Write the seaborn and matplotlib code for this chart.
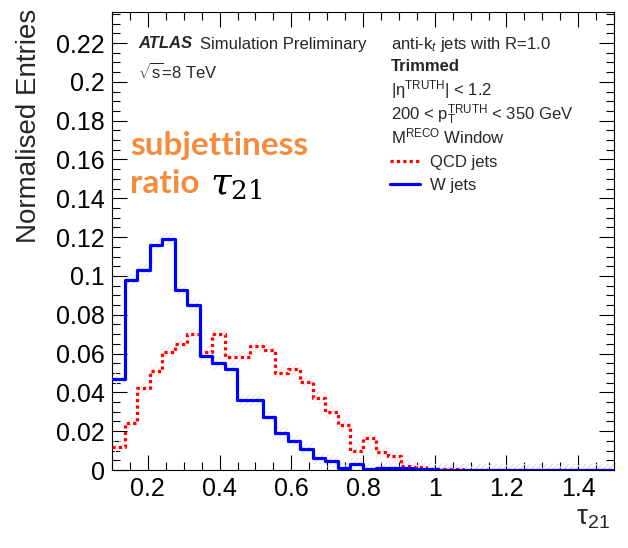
import numpy as np
import pandas as pd
import matplotlib
matplotlib.use("Agg")
import matplotlib.pyplot as plt
import seaborn as sns
from matplotlib.lines import Line2D
from matplotlib.ticker import MultipleLocator, FuncFormatter

# ---------------- data ----------------
bin_low = 0.1
bin_high = 1.5
n_bins = 40
w_values = [0.047, 0.098, 0.103, 0.116, 0.119, 0.093, 0.085, 0.059, 0.055, 0.052,
            0.036, 0.036, 0.0275, 0.019, 0.0148, 0.011, 0.006, 0.0048, 0.001, 0.003,
            0.0003, 0.0008, 0.0008, 0.0008, 0.0005, 0.0003, 0.0002, 0.0002, 0.0001, 0.0001,
            0, 0, 0, 0, 0, 0, 0, 0, 0, 0]
qcd_values = [0.012, 0.024, 0.042, 0.051, 0.061, 0.065, 0.070, 0.061, 0.070, 0.058,
              0.058, 0.064, 0.062, 0.050, 0.052, 0.0455, 0.037, 0.030, 0.023, 0.010,
              0.0165, 0.0094, 0.007, 0.0022, 0.0017, 0.0006, 0.0004, 0.0003, 0.0002, 0.0002,
              0.0001, 0.0001, 0.0001, 0, 0, 0, 0, 0, 0, 0]
series_labels = ["QCD jets", "W jets"]
x_ticks_step = 0.2
y_ticks_step = 0.02

edges = np.linspace(bin_low, bin_high, n_bins + 1)
centers = 0.5 * (edges[:-1] + edges[1:])
df = pd.DataFrame({"tau21": centers, "w": w_values, "qcd": qcd_values})

# ---------------- style ----------------
sns.set_style("ticks")
plt.rcParams["font.family"] = ["Liberation Sans", "DejaVu Sans"]
plt.rcParams["mathtext.fontset"] = "custom"
plt.rcParams["mathtext.rm"] = "Liberation Sans"
plt.rcParams["mathtext.it"] = "Liberation Sans:italic"
plt.rcParams["mathtext.bf"] = "Liberation Sans:bold"
plt.rcParams["hatch.linewidth"] = 0.6

W, H = 628, 548
fig = plt.figure(figsize=(W / 100, H / 100), dpi=100)
ax = fig.add_axes([112 / W, 1 - 470 / H, 502 / W, 458 / H])

RED = "#ff0000"
BLUE = "#0000ff"

# faint hatched uncertainty bands
for vals, col in [(qcd_values, "#ffd6d6"), (w_values, "#d6dcff")]:
    v = np.append(vals, vals[-1])
    ax.fill_between(edges, v - 0.003, v + 0.003, step="post", facecolor="none",
                    edgecolor=col, hatch="//////", linewidth=0, zorder=1)

sns.histplot(data=df, x="tau21", weights="qcd", bins=n_bins, binrange=(bin_low, bin_high),
             element="step", fill=False, color=RED, linewidth=2.3, linestyle=(0, (1, 1)),
             ax=ax, zorder=3)
sns.histplot(data=df, x="tau21", weights="w", bins=n_bins, binrange=(bin_low, bin_high),
             element="step", fill=False, color=BLUE, linewidth=2.3, ax=ax, zorder=4)

ax.set_xlim(0.1, 1.5)
ax.set_ylim(0, 0.236)
ax.xaxis.set_major_locator(MultipleLocator(x_ticks_step))
ax.xaxis.set_minor_locator(MultipleLocator(0.05))
ax.yaxis.set_major_locator(MultipleLocator(y_ticks_step))
ax.yaxis.set_minor_locator(MultipleLocator(0.005))
fmt = FuncFormatter(lambda v, p: "%g" % round(v, 6))
ax.xaxis.set_major_formatter(fmt)
ax.yaxis.set_major_formatter(fmt)
ax.tick_params(which="both", direction="in", top=True, right=True, width=0.8, colors="black")
ax.tick_params(which="major", length=11, labelsize=18, pad=5)
ax.tick_params(which="minor", length=5.5)
for s in ax.spines.values():
    s.set_linewidth(0.8)
    s.set_color("black")

ax.set_ylabel("Normalised Entries", fontsize=20, loc="top")
ax.yaxis.set_label_coords(-0.139, 1.008)
ax.set_xlabel(r"$\mathrm{τ}_{21}$", fontsize=20, loc="right")
ax.xaxis.set_label_coords(0.992, -0.076)

def ft(x, y, s, **kw):
    fig.text(x / W, 1 - y / H, s, va="baseline", ha="left", **kw)

ft(138, 48.5, "ATLAS", fontsize=12, fontweight="bold", fontstyle="italic")
ft(200, 48.5, "Simulation Preliminary", fontsize=12)
ft(138, 78.5, r"$\sqrt{\mathrm{s}}$=8 TeV", fontsize=12)

ft(391, 49.5, r"anti-k$_{t}$ jets with R=1.0", fontsize=12)
ft(391, 71, "Trimmed", fontsize=12, fontweight="bold")
ft(391, 95, r"|$\mathrm{η}^{\mathrm{TRUTH}}$| < 1.2", fontsize=12)
ft(391, 119.5, r"200 < p$_{\mathrm{T}}^{\mathrm{TRUTH}}$ < 350 GeV", fontsize=12)
ft(391, 143.5, r"M$^{\mathrm{RECO}}$ Window", fontsize=12)

handles = [Line2D([], [], color=RED, lw=2.3, ls=(0, (1, 1))),
           Line2D([], [], color=BLUE, lw=2.3)]
ax.legend(handles, series_labels, loc="upper left", bbox_to_anchor=(390 / W, 1 - 155 / H),
          bbox_transform=fig.transFigure, frameon=False, fontsize=12, handlelength=1.8,
          handletextpad=0.6, borderpad=0, borderaxespad=0, labelspacing=0.5)

ORANGE = "#f58b3c"
ft(130, 155, "subjettiness", fontsize=24, fontweight="bold", color=ORANGE, family=["Lato", "DejaVu Sans"])
ft(130, 193, "ratio", fontsize=24, fontweight="bold", color=ORANGE, family=["Lato", "DejaVu Sans"])
fig.text(210 / W, 1 - 194 / H, r"$\tau_{21}$", fontsize=27, va="baseline", ha="left",
         color="black", math_fontfamily="dejavuserif")

fig.savefig("out.png", dpi=100)
